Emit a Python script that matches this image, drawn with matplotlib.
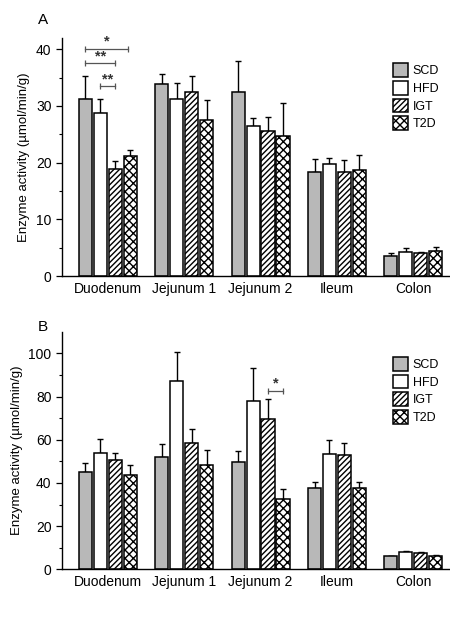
import numpy as np
import matplotlib.pyplot as plt

plt.rcParams['font.family'] = ['Liberation Sans', 'DejaVu Sans']

segments = ['Duodenum', 'Jejunum 1', 'Jejunum 2', 'Ileum', 'Colon']
groups = ['SCD', 'HFD', 'IGT', 'T2D']

# panel A: means and upper error (mean + sd)
a_mean = {
    'SCD': [31.3, 33.8, 32.4, 18.3, 3.6],
    'HFD': [28.7, 31.3, 26.4, 19.7, 4.3],
    'IGT': [18.8, 32.5, 25.5, 18.4, 4.05],
    'T2D': [21.2, 27.5, 24.7, 18.7, 4.4],
}
a_top = {
    'SCD': [35.3, 35.7, 37.9, 20.6, 4.1],
    'HFD': [31.3, 34.1, 27.8, 20.8, 5.0],
    'IGT': [20.3, 35.3, 28.0, 20.4, 4.15],
    'T2D': [22.3, 31.1, 30.5, 21.4, 5.2],
}

# panel B
b_mean = {
    'SCD': [45.2, 51.9, 49.8, 37.8, 6.2],
    'HFD': [54.0, 87.2, 78.1, 53.4, 7.9],
    'IGT': [50.5, 58.5, 69.6, 52.9, 7.4],
    'T2D': [43.7, 48.5, 32.7, 37.7, 6.2],
}
b_top = {
    'SCD': [49.4, 58.0, 54.9, 40.3, 6.4],
    'HFD': [60.5, 100.5, 93.1, 59.9, 8.6],
    'IGT': [53.7, 64.8, 79.0, 58.6, 7.9],
    'T2D': [48.1, 55.2, 37.0, 40.6, 6.5],
}

# significance brackets: (segment, group from, group to, y, label)
a_sig = [(0, 0, 2.85, 40.1, '*'), (0, 0, 2, 37.5, '**'), (0, 1, 2, 33.5, '**')]
b_sig = [(2, 2, 3, 82.7, '*')]

styles = {
    'SCD': dict(color='#b8b8b8', hatch=None),
    'HFD': dict(color='white', hatch=None),
    'IGT': dict(color='white', hatch='//////'),
    'T2D': dict(color='white', hatch='xxxx'),
}

step = 0.196
width = 0.172
offsets = (np.arange(4) - 1.5) * step

plt.rcParams['hatch.linewidth'] = 1.0

fig = plt.figure(figsize=(4.5, 6.3), dpi=100)


def draw_panel(rect, means, tops, ylim, yticks, minor, sig, letter):
    ax = fig.add_axes(rect)
    x = np.arange(len(segments))
    for i, g in enumerate(groups):
        m = np.array(means[g])
        err = np.array(tops[g]) - m
        ax.bar(x + offsets[i], m, width, facecolor=styles[g]['color'],
               edgecolor='black', linewidth=1.1, hatch=styles[g]['hatch'],
               label=g, zorder=2)
        ax.errorbar(x + offsets[i], m, yerr=[np.zeros_like(err), err],
                    fmt='none', ecolor='black', elinewidth=1.0, capsize=2.5,
                    capthick=1.0, zorder=1)
    for seg, g1, g2, y, lab in sig:
        x1 = seg + offsets[0] + g1 * step
        x2 = seg + offsets[0] + g2 * step
        ax.plot([x1, x2], [y, y], color='#555555', lw=0.9,
                marker='|', markersize=4, markeredgewidth=0.9)
        ax.text((x1 + x2) / 2, y, lab, ha='center', va='bottom',
                fontsize=10.5, fontweight='bold', color='#333333')
    ax.set_xlim(-0.6, 4.48)
    ax.set_ylim(*ylim)
    ax.set_yticks(yticks)
    ax.set_yticks(minor, minor=True)
    ax.set_xticks(x)
    ax.set_xticklabels(segments, fontsize=10)
    ax.tick_params(axis='x', length=0, pad=4)
    ax.tick_params(axis='y', labelsize=10, length=4, width=0.9)
    ax.tick_params(axis='y', which='minor', length=2, width=0.8)
    for s in ['top', 'right']:
        ax.spines[s].set_visible(False)
    for s in ['left', 'bottom']:
        ax.spines[s].set_linewidth(1.0)
    ax.set_ylabel('Enzyme activity (\u00b5mol/min/g)', fontsize=9.5, labelpad=4)
    ax.legend(loc='upper right', bbox_to_anchor=(0.985, 0.915), frameon=False,
              fontsize=9, handlelength=1.2, handleheight=1.3,
              handletextpad=0.35, labelspacing=0.3, borderaxespad=0)
    fig.text(43 / 450, letter[1], letter[0], fontsize=11, ha='center', va='center')
    return ax


draw_panel([62 / 450, 0.5619, 1 - 62 / 450, 0.3778], a_mean, a_top, (0, 42),
           [0, 10, 20, 30, 40], [5, 15, 25, 35], a_sig, ('A', 1 - 20 / 630))
draw_panel([62 / 450, 0.0963, 1 - 62 / 450, 0.3771], b_mean, b_top, (0, 110),
           [0, 20, 40, 60, 80, 100], [10, 30, 50, 70, 90], b_sig, ('B', 1 - 327 / 630))

fig.savefig('out.png', dpi=100)
